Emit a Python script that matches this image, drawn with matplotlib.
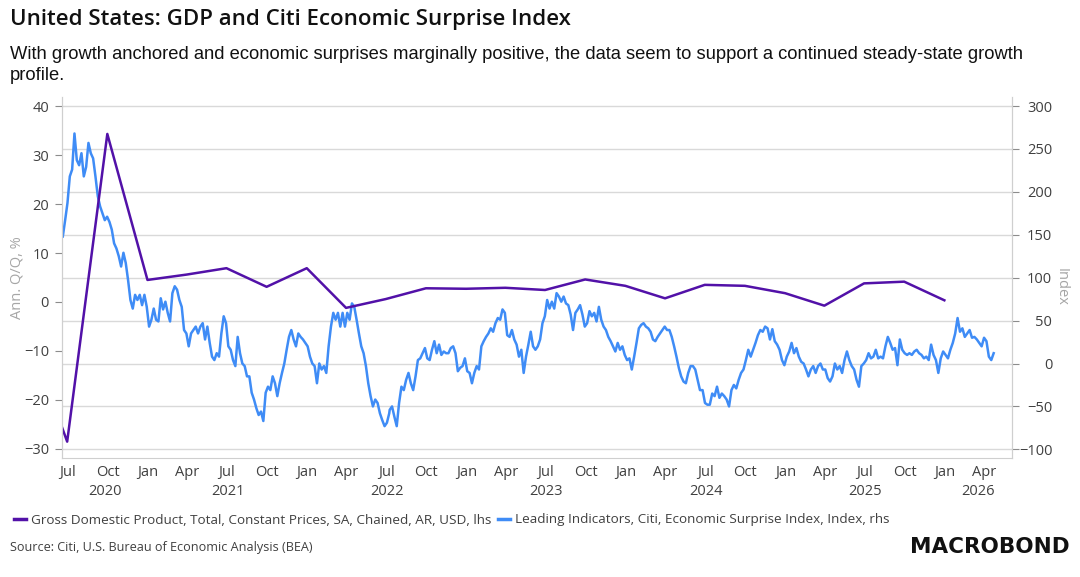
import numpy as np
import pandas as pd
import matplotlib
matplotlib.use("Agg")
import matplotlib.pyplot as plt
import matplotlib.dates as mdates
from matplotlib.lines import Line2D
from matplotlib.transforms import blended_transform_factory

# GDP, annualised q/q %, plotted at quarter end (Q1 2020 .. Q4 2025)
gdp_dates = pd.date_range("2020-03-31", "2025-12-31", freq="QE")
gdp_values = [-6.0, -28.5, 34.3, 4.5,
              5.6, 6.9, 3.1, 6.9,
              -1.2, 0.6, 2.8, 2.7,
              2.9, 2.45, 4.6, 3.3,
              0.75, 3.5, 3.3, 1.8,
              -0.75, 3.8, 4.15, 0.35]

# Citi Economic Surprise Index in three stretches
cesi_2020_2022 = [148, 167, 187, 218, 226, 268, 237, 231, 245, 218,
                  229, 257, 245, 239, 218, 195, 183, 175, 167, 171,
                  165, 156, 140, 134, 125, 113, 129, 117, 97, 74,
                  64, 80, 74, 80, 68, 80, 66, 43, 51, 64,
                  51, 49, 76, 63, 72, 59, 49, 82, 90, 86,
                  74, 66, 39, 35, 20, 35, 39, 43, 35, 43,
                  47, 28, 43, 24, 8, 4, 12, 8, 35, 55,
                  47, 20, 16, 4, -3, 31, 12, 0, -3, -15,
                  -15, -34, -42, -52, -60, -56, -67, -34, -27, -31,
                  -15, -23, -38, -23, -11, 0, 16, 31, 39, 28,
                  20, 35, 31, 28, 24, 20, 8, 0, -3, -23,
                  0, -7, -3, -11, 20, 43, 59, 51, 59, 43,
                  59, 43, 59, 51, 70, 66, 51, 35, 20, 12,
                  -3, -23, -38, -50, -42, -46, -58, -66, -73, -69,
                  -58]
cesi_2022_2024 = [-54, -50, -62, -73, -46, -27, -31, -19, -11, -23,
                  -31, -15, 4, 6, 12, 18, 6, 4, 16, 26,
                  12, 22, 10, 14, 12, 12, 18, 20, 12, -9,
                  -5, -3, 6, -9, -11, -23, -11, -3, -7, 20,
                  26, 31, 35, 41, 37, 47, 53, 51, 63, 59,
                  33, 31, 39, 28, 22, 8, 16, -11, 8, 22,
                  37, 20, 16, 20, 28, 47, 55, 74, 64, 72,
                  64, 82, 78, 72, 78, 70, 68, 57, 39, 59,
                  63, 68, 57, 43, 47, 61, 55, 59, 49, 66,
                  51, 43, 39, 31, 26, 20, 14, 24, 16, 20,
                  10, 4, 6, -7, 8, 24, 41, 45, 47, 43,
                  41, 37, 28, 26, 31, 35, 39, 43, 39, 39,
                  31, 20, 8, -5, -15, -21, -23, -11, -3, -3,
                  -7, -19, -31]
cesi_2024_2026 = [-31, -46, -48, -48, -35, -38, -27, -40, -35, -38,
                  -42, -50, -31, -25, -29, -19, -11, -7, 4, 16,
                  8, 16, 24, 33, 39, 37, 43, 41, 28, 40,
                  26, 22, 16, 4, -2, 8, 14, 24, 12, 18,
                  8, 2, 0, -7, -15, -7, -3, -11, -3, 0,
                  -7, -7, -17, -21, -15, 0, -7, -3, -11, 4,
                  14, 4, -3, -7, -19, -27, -3, 0, 4, 12,
                  6, 8, 16, 6, 8, 6, 20, 31, 24, 16,
                  18, -2, 28, 16, 12, 10, 12, 10, 14, 16,
                  12, 10, 6, 8, 4, 22, 10, 4, -11, 6,
                  14, 10, 6, 16, 24, 35, 53, 37, 41, 31,
                  35, 39, 30, 31, 28, 24, 20, 30, 26, 8,
                  4, 12]
cesi_dates = pd.DatetimeIndex(np.concatenate([
    pd.date_range("2020-06-20", "2022-07-08", periods=len(cesi_2020_2022)).values,
    pd.date_range("2022-07-09", "2024-06-19", periods=len(cesi_2022_2024)).values,
    pd.date_range("2024-06-25", "2026-04-23", periods=len(cesi_2024_2026)).values,
]))
cesi_values = cesi_2020_2022 + cesi_2022_2024 + cesi_2024_2026

left_ticks = list(range(-30, 41, 10))
right_ticks = list(range(-100, 301, 50))
x_start, x_end = pd.Timestamp("2020-06-17"), pd.Timestamp("2026-06-04")

PURPLE = "#5211a8"
BLUE = "#3f8cf6"
GRID = "#d9d9d9"
SPINE = "#cfcfcf"
TXT = "#404040"
LBL = "#a6a6a6"
FONT = ["Open Sans", "DejaVu Sans"]

plt.rcParams["font.family"] = FONT

fig = plt.figure(figsize=(10.8, 5.77), dpi=100)
ax = fig.add_axes([61.5 / 1080, 119 / 577, 950.5 / 1080, 361 / 577])
axl = ax.twinx()

# right axis (CESI) carries the grid
ax.plot(cesi_dates, cesi_values, color=BLUE, lw=1.8, solid_joinstyle="round")
ax.set_ylim(-110.1, 310.5)
ax.set_yticks(right_ticks)
ax.yaxis.tick_right()
ax.grid(axis="y", color=GRID, lw=1)
ax.set_axisbelow(True)
ax.tick_params(axis="y", which="both", right=True, left=False, length=5,
               color="#8c8c8c", labelsize=10.5, labelcolor=TXT, pad=24)
for t in ax.yaxis.get_major_ticks():
    t.label2.set_horizontalalignment("right")

# left axis (GDP)
axl.plot(gdp_dates, gdp_values, color=PURPLE, lw=1.8, solid_joinstyle="round")
axl.set_ylim(-31.84, 41.84)
axl.set_yticks(left_ticks)
axl.yaxis.tick_left()
axl.tick_params(axis="y", left=True, right=False, length=5,
                color="#8c8c8c", labelsize=10.5, labelcolor=TXT, pad=4)

ax.set_xlim(x_start, x_end)
ax.xaxis.set_major_locator(mdates.MonthLocator(bymonth=[1, 4, 7, 10]))
ax.xaxis.set_major_formatter(mdates.DateFormatter("%b"))
ax.tick_params(axis="x", length=0, labelsize=10.5, labelcolor=TXT, pad=5)

for a in (ax, axl):
    for s in a.spines.values():
        s.set_color(SPINE)
    a.spines["top"].set_visible(False)
axl.spines["bottom"].set_visible(False)

# year labels centred under the visible part of each year
trans = blended_transform_factory(ax.transData, ax.transAxes)
for yr in range(2020, 2027):
    a0 = max(pd.Timestamp(f"{yr}-01-01"), x_start)
    a1 = min(pd.Timestamp(f"{yr + 1}-01-01"), x_end)
    mid = a0 + (a1 - a0) / 2
    ax.text(mdates.date2num(mid), -0.092, str(yr), transform=trans,
            ha="center", va="center", fontsize=10.5, color=TXT)

fig.text(17 / 1080, 1 - 278 / 577, "Ann. Q/Q, %", rotation=90, ha="center",
         va="center", fontsize=10.5, color=LBL)
fig.text(1061 / 1080, 1 - 287 / 577, "Index", rotation=270, ha="center",
         va="center", fontsize=10.5, color=LBL)

fig.text(10 / 1080, 1 - 19 / 577, "United States: GDP and Citi Economic Surprise Index",
         fontsize=16, fontweight="semibold", color="#111111", va="center")
fig.text(10 / 1080, 1 - 65 / 577,
         "With growth anchored and economic surprises marginally positive, the data seem to support a continued steady-state growth\nprofile.",
         fontsize=13.25, family=["Liberation Sans", "DejaVu Sans"], color="#111111",
         va="center", linespacing=1.3)

handles = [Line2D([], [], color=PURPLE, lw=2.5),
           Line2D([], [], color=BLUE, lw=2.5)]
labels = ["Gross Domestic Product, Total, Constant Prices, SA, Chained, AR, USD, lhs",
          "Leading Indicators, Citi, Economic Surprise Index, Index, rhs"]
fig.legend(handles, labels, loc="center left", bbox_to_anchor=(2 / 1080, 1 - 520 / 577),
           ncol=2, frameon=False, fontsize=9.7, handlelength=0.9, handletextpad=0.35,
           columnspacing=0.5, labelcolor=TXT)

fig.text(10 / 1080, 1 - 547 / 577, "Source: Citi, U.S. Bureau of Economic Analysis (BEA)",
         fontsize=9.1, color=TXT, va="center")
fig.text(1070 / 1080, 1 - 547 / 577, "MACROBOND", fontsize=15.5, fontweight="heavy",
         family=["DejaVu Sans"], color="#111111", ha="right", va="center")

fig.savefig("out.png", dpi=100)
